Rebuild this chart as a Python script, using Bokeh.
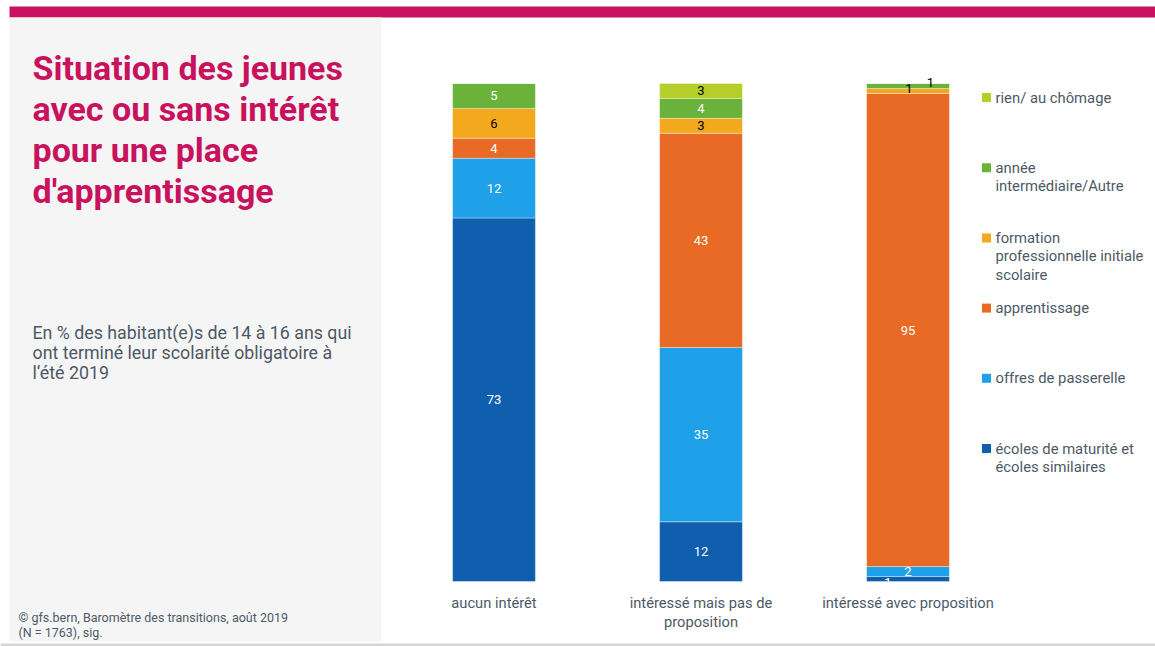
from bokeh.plotting import figure
from bokeh.models import Range1d, ColumnDataSource
from bokeh.embed import file_html
from bokeh.resources import INLINE
from bokeh.core.properties import value

# ---------------- data ----------------
categories = ["aucun intérêt", "intéressé mais pas de\nproposition", "intéressé avec proposition"]
series_names = [
    "écoles de maturité et\nécoles similaires",
    "offres de passerelle",
    "apprentissage",
    "formation\nprofessionnelle initiale\nscolaire",
    "année\nintermédiaire/Autre",
    "rien/ au chômage",
]
ecoles = [73, 12, 1]
passerelle = [12, 35, 2]
apprentissage = [4, 43, 95]
formation = [6, 3, 1]
annee = [5, 4, 1]
rien = [0, 3, 0]
colors = ["#0F5FAE", "#1EA1E8", "#E86A24", "#F4A81D", "#6BB23A", "#B5CE2A"]

title_lines = ["Situation des jeunes", "avec ou sans intérêt", "pour une place", "d'apprentissage"]
subtitle_lines = ["En % des habitant(e)s de 14 à 16 ans qui",
                  "ont terminé leur scolarité obligatoire à",
                  "l‘été 2019"]
source_lines = ["© gfs.bern, Baromètre des transitions, août 2019", "(N = 1763), sig."]

series_values = [ecoles, passerelle, apprentissage, formation, annee, rien]
keys = ["ecoles", "passerelle", "apprentissage", "formation", "annee", "rien"]

FONT = value("Roboto")
PINK = "#C8125E"
PANEL = "#F5F5F5"
TXT = "#4d5966"

W, H = 1155, 646
# layout of the bar area in canvas pixels
PX_X = 207.0          # pixels per category step
X0_PIX = 493.5        # canvas x of first category
PX_Y = 4.98           # pixels per percent
Y0_PIX = 581.0        # canvas y of 0 %

x_idx = list(range(len(categories)))
p = figure(width=W, height=H, toolbar_location=None, output_backend="svg",
           x_range=Range1d(-X0_PIX / PX_X, (W - X0_PIX) / PX_X),
           y_range=Range1d(-(H - Y0_PIX) / PX_Y, Y0_PIX / PX_Y),
           x_axis_location=None, y_axis_location=None, min_border=0,
           outline_line_color=None, background_fill_color="white", border_fill_color="white")
p.grid.grid_line_color = None
p.extra_x_ranges = {"page": Range1d(0, W)}
p.extra_y_ranges = {"page": Range1d(H, 0)}
pg = dict(x_range_name="page", y_range_name="page")

# decorations (page coordinates)
p.quad(left=[9], right=[W], top=[6], bottom=[17], fill_color=PINK, line_color=None, **pg)
p.quad(left=[9], right=[381], top=[17], bottom=[641], fill_color=PANEL, line_color=None, **pg)
p.quad(left=[0], right=[W], top=[643], bottom=[646], fill_color="#D6D6D6", line_color=None, **pg)

# left panel texts (y = visual line centre)
p.text(x=[32] * len(title_lines), y=[67.5 + 41 * i for i in range(len(title_lines))],
       text=title_lines, text_font=FONT, text_font_size="34px",
       text_font_style="bold", text_color=PINK, text_baseline="middle", text_align="left", **pg)
p.text(x=[32] * len(subtitle_lines), y=[332 + 20.2 * i for i in range(len(subtitle_lines))],
       text=subtitle_lines, text_font=FONT, text_font_size="17.8px",
       text_color=TXT, text_baseline="middle", text_align="left", **pg)
p.text(x=[18] * len(source_lines), y=[617 + 14.5 * i for i in range(len(source_lines))],
       text=source_lines, text_font=FONT, text_font_size="12.5px",
       text_color=TXT, text_baseline="middle", text_align="left", **pg)

# stacked bars
src = ColumnDataSource(dict(x=x_idx, **{k: v for k, v in zip(keys, series_values)}))
p.vbar_stack(keys, x="x", width=0.4, fill_color=colors, line_color="white",
             line_alpha=0.45, line_width=0.8, source=src)

# value labels
dark_text = {3, 5}
offsets = {(2, 0): (-20, 3), (2, 3): (1, -2), (2, 4): (22.5, -3)}
color_override = {(2, 4): "black"}
lx, ly, lt, lc, xo, yo = [], [], [], [], [], []
for j, vals in enumerate(series_values):
    for i in x_idx:
        v = vals[i]
        if v == 0:
            continue
        base = sum(series_values[k][i] for k in range(j))
        lx.append(i)
        ly.append(base + v / 2)
        lt.append(str(v))
        lc.append(color_override.get((i, j), "black" if j in dark_text else "white"))
        ox, oy = offsets.get((i, j), (0, 0))
        xo.append(ox)
        yo.append(oy)
lsrc = ColumnDataSource(dict(x=lx, y=ly, t=lt, c=lc, xo=xo, yo=yo))
p.text(x="x", y="y", text="t", text_color="c", x_offset="xo", y_offset="yo", source=lsrc,
       text_font=FONT, text_font_size="13px", text_align="center", text_baseline="middle")

# category labels below the bars
p.text(x=x_idx, y=[0] * len(x_idx), text=categories, y_offset=12,
       text_font=FONT, text_font_size="14.7px", text_color=TXT, text_align="center",
       text_baseline="top", text_line_height=1.1)

# legend (page coordinates, y = visual line centre)
order = list(reversed(range(len(series_names))))
sq_y, tx, ty, tt = [], [], [], []
for k, idx in enumerate(order):
    centre = 97 + k * 70.2
    sq_y.append(centre)
    for m, line in enumerate(series_names[idx].split("\n")):
        tx.append(995)
        ty.append(centre + m * 18.5)
        tt.append(line)
p.scatter(x=[986] * len(order), y=sq_y, marker="square", size=9,
          fill_color=[colors[i] for i in order], line_color=None, **pg)
p.text(x=tx, y=ty, text=tt, text_font=FONT, text_font_size="14.8px",
       text_color=TXT, text_baseline="middle", text_align="left", **pg)

open("out.html", "w").write(file_html(p, INLINE))
